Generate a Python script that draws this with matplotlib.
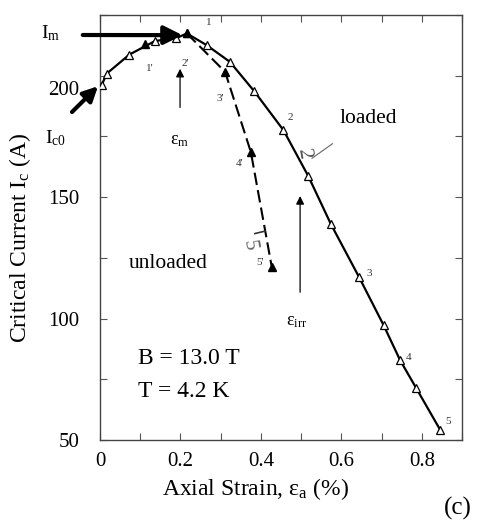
import numpy as np
import matplotlib.pyplot as plt
from matplotlib.ticker import MultipleLocator
from matplotlib.transforms import ScaledTranslation

plt.rcParams['font.family'] = 'Liberation Serif'
plt.rcParams['mathtext.fontset'] = 'custom'
plt.rcParams['mathtext.rm'] = 'Liberation Serif'
plt.rcParams['mathtext.it'] = 'Liberation Serif:italic'

# loaded curve (open triangles), strain in %, current in A
strain_loaded = [0.004, 0.017, 0.073, 0.137, 0.19, 0.216, 0.265, 0.323, 0.383,
                 0.456, 0.518, 0.574, 0.644, 0.705, 0.746, 0.786, 0.846]
ic_loaded = [196.1, 200.9, 208.7, 214.3, 215.5, 217.4, 212.6, 205.7, 193.7,
             177.6, 158.6, 138.9, 117.1, 97.3, 82.9, 71.4, 54.1]

# unloaded points (filled triangles)
strain_unloaded = [0.112, 0.216, 0.311, 0.375, 0.427]
ic_unloaded = [213.2, 217.4, 201.6, 168.6, 121.3]

# point labels
lab_loaded = ['1', '2', '3', '4', '5']
lab_loaded_xy = [(0.27, 222.0), (0.472, 183.0), (0.67, 118.5), (0.768, 84.0), (0.866, 57.5)]
lab_unloaded = ["1'", "2'", "3'", "4'", "5'"]
lab_unloaded_xy = [(0.125, 203.0), (0.213, 205.0), (0.30, 190.5), (0.346, 164.0), (0.398, 123.0)]

W, H = 483, 523
fig = plt.figure(figsize=(W / 100, H / 100), dpi=100)
ax = fig.add_axes([100 / W, 1 - 440 / H, 362 / W, 425 / H])


def fpx(px, py):
    return (px / W, 1 - py / H)


ax.plot(strain_loaded, ic_loaded, '-', color='k', lw=1.6, zorder=2)
ax.plot(strain_loaded, ic_loaded, '^', ms=6, mfc='white', mec='k', mew=0.9, zorder=3)
ax.plot(strain_unloaded[1:], ic_unloaded[1:], '--', color='k', lw=1.5,
        dashes=(6, 2.5), zorder=2)
ax.plot(strain_unloaded, ic_unloaded, '^', ms=6, color='k', zorder=4)

for t, (x, y) in zip(lab_loaded, lab_loaded_xy):
    ax.text(x, y, t, fontsize=8, ha='center', va='center', color='#333333')
for t, (x, y) in zip(lab_unloaded, lab_unloaded_xy):
    ax.text(x, y, t, fontsize=8, ha='center', va='center', color='#333333')

# hand-written marks next to the curves
ax.text(0.507, 168, '2', fontsize=15, rotation=-80, ha='center', va='center', color='#555555')
ax.plot([0.527, 0.578], [166, 172], color='#666666', lw=0.8)
ax.text(0.37, 130, '5', fontsize=15, rotation=-80, ha='center', va='center', color='#666666')
ax.plot([0.385, 0.41], [135, 136], color='#333333', lw=1.2)

ax.set_xlim(0, 0.9)
ax.set_ylim(50, 225)
ax.set_xticks([0, 0.2, 0.4, 0.6, 0.8])
ax.set_xticklabels(['0', '0.2', '0.4', '0.6', '0.8'])
ax.xaxis.set_minor_locator(MultipleLocator(0.1))
ax.set_yticks([50, 100, 150, 200])
ax.yaxis.set_minor_locator(MultipleLocator(25))
ax.tick_params(which='both', direction='in', top=True, right=True,
               length=5, width=0.8, color='#555555')
ax.tick_params(axis='x', labelsize=15, pad=9)
ax.tick_params(axis='y', labelsize=15, pad=15)
for sp in ax.spines.values():
    sp.set_color('#444444')
    sp.set_linewidth(1.0)

# the 200 label sits a little lower, next to the starting point
t200 = ax.yaxis.get_major_ticks()[3].label1
t200.set_transform(t200.get_transform() + ScaledTranslation(0, -0.12, fig.dpi_scale_trans))

ax.set_xlabel(r'Axial Strain, ε$_{\rm a}$ (%)', fontsize=17)
ax.xaxis.set_label_coords(0.43, -0.085)
ax.set_ylabel(r'Critical Current I$_{\rm c}$ (A)', fontsize=17)
ax.yaxis.set_label_coords(-0.185, 0.475)

# inner annotations
ax.text(0.667, 182.5, 'loaded', fontsize=15.5, ha='center', va='center')
ax.text(0.169, 122.8, 'unloaded', fontsize=15.5, ha='center', va='center')
ax.text(0.094, 83.7, 'B = 13.0 T', fontsize=17, ha='left', va='center')
ax.text(0.094, 69.8, 'T = 4.2 K', fontsize=17, ha='left', va='center')
ax.text(0.199, 173.5, r'ε$_{\rm m}$', fontsize=13, ha='center', va='center')
ax.text(0.49, 98.6, r'ε$_{\rm irr}$', fontsize=13, ha='center', va='center')
ax.annotate('', xy=(0.199, 204.0), xytext=(0.199, 185.8),
            arrowprops=dict(arrowstyle='-|>', lw=0.9, color='k', mutation_scale=12))
ax.annotate('', xy=(0.4975, 151.6), xytext=(0.4975, 109.7),
            arrowprops=dict(arrowstyle='-|>', lw=0.9, color='k', mutation_scale=12))

# outer annotations
fig.text(*fpx(51, 33), r'I$_{\rm m}$', fontsize=14, ha='center', va='center')
fig.text(*fpx(55, 138), r'I$_{\rm c0}$', fontsize=14, ha='center', va='center')
ax.annotate('', xy=(0.212, 216.7), xytext=fpx(80, 35), textcoords='figure fraction',
            arrowprops=dict(arrowstyle='-|>', lw=3, color='k', mutation_scale=28),
            annotation_clip=False)
ax.annotate('', xy=(0.0, 196.5), xytext=fpx(70, 114), textcoords='figure fraction',
            arrowprops=dict(arrowstyle='-|>', lw=3, color='k', mutation_scale=22),
            annotation_clip=False)
fig.text(*fpx(458, 508), '(c)', fontsize=18, ha='center', va='center')

fig.savefig('out.png', dpi=100)
